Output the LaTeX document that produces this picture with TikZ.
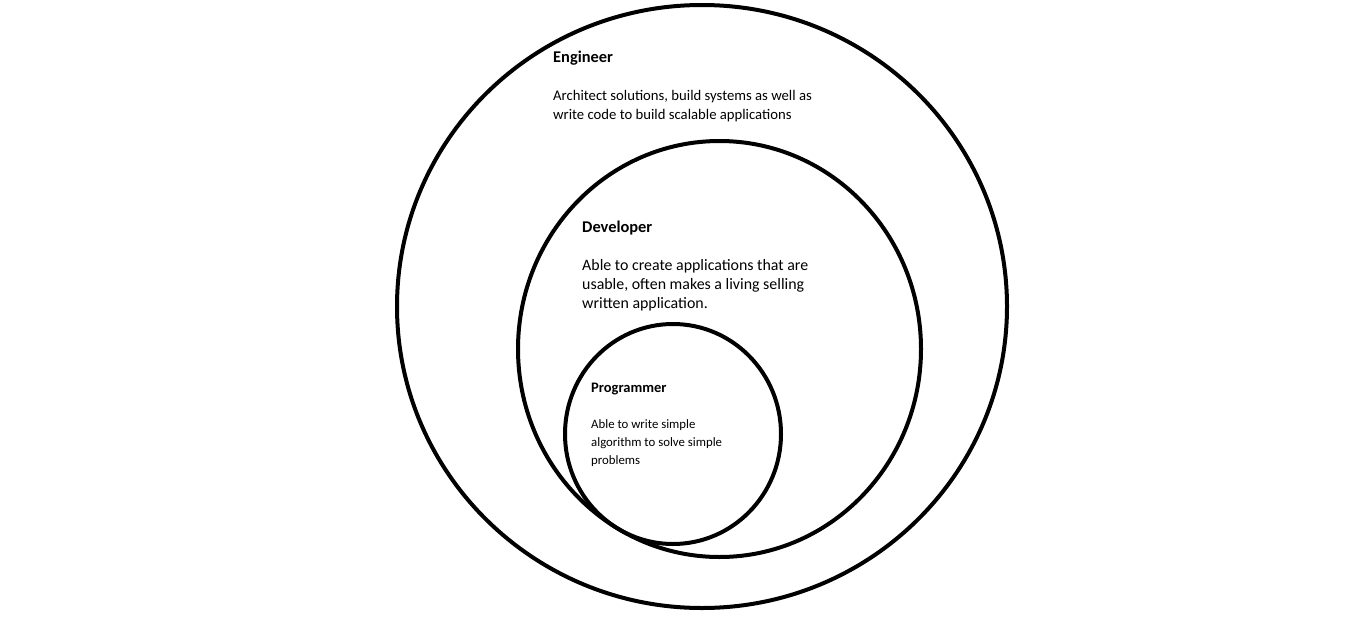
\documentclass[tikz,border=0pt]{standalone}
\usepackage{fontspec}
\setmainfont{Carlito}
\usepackage{tikz}

\begin{document}
\begin{tikzpicture}[x=1pt,y=-1pt,
		ring/.style={line width=4pt},
		head/.style={anchor=base west,inner sep=0pt,font=\fontsize{16.4}{19}\selectfont\bfseries},
		body/.style={anchor=north west,inner sep=0pt,align=left,font=\fontsize{14.7}{19}\selectfont},
		smallhead/.style={head,font=\fontsize{14.5}{18}\selectfont\bfseries},
		smallbody/.style={body,font=\fontsize{12.8}{18}\selectfont}]
		\useasboundingbox (0,0) rectangle (1360,616);
		\draw[ring](702,306.5)ellipse(305 and 301.5);
		\draw[ring](719.5,349)ellipse(201.5 and 208);
		\draw[ring](673,434)ellipse(108 and 110);
		\node[head] (eng) at (553,62) {Engineer};
		\node[body] (engtext) at (553,90.5) {Architect solutions, build systems as well as\\write code to build scalable applications};
		\node[head] (dev) at (582,232) {Developer};
		\node[body,font=\fontsize{15.9}{19}\selectfont] (devtext) at (582,259) {Able to create applications that are\\usable, often makes a living selling\\written application.};
		\node[smallhead] (prog) at (591,392) {Programmer};
		\node[smallbody] (progtext) at (591,419.5) {Able to write simple\\algorithm to solve simple\\problems};
	\end{tikzpicture}
\end{document}
